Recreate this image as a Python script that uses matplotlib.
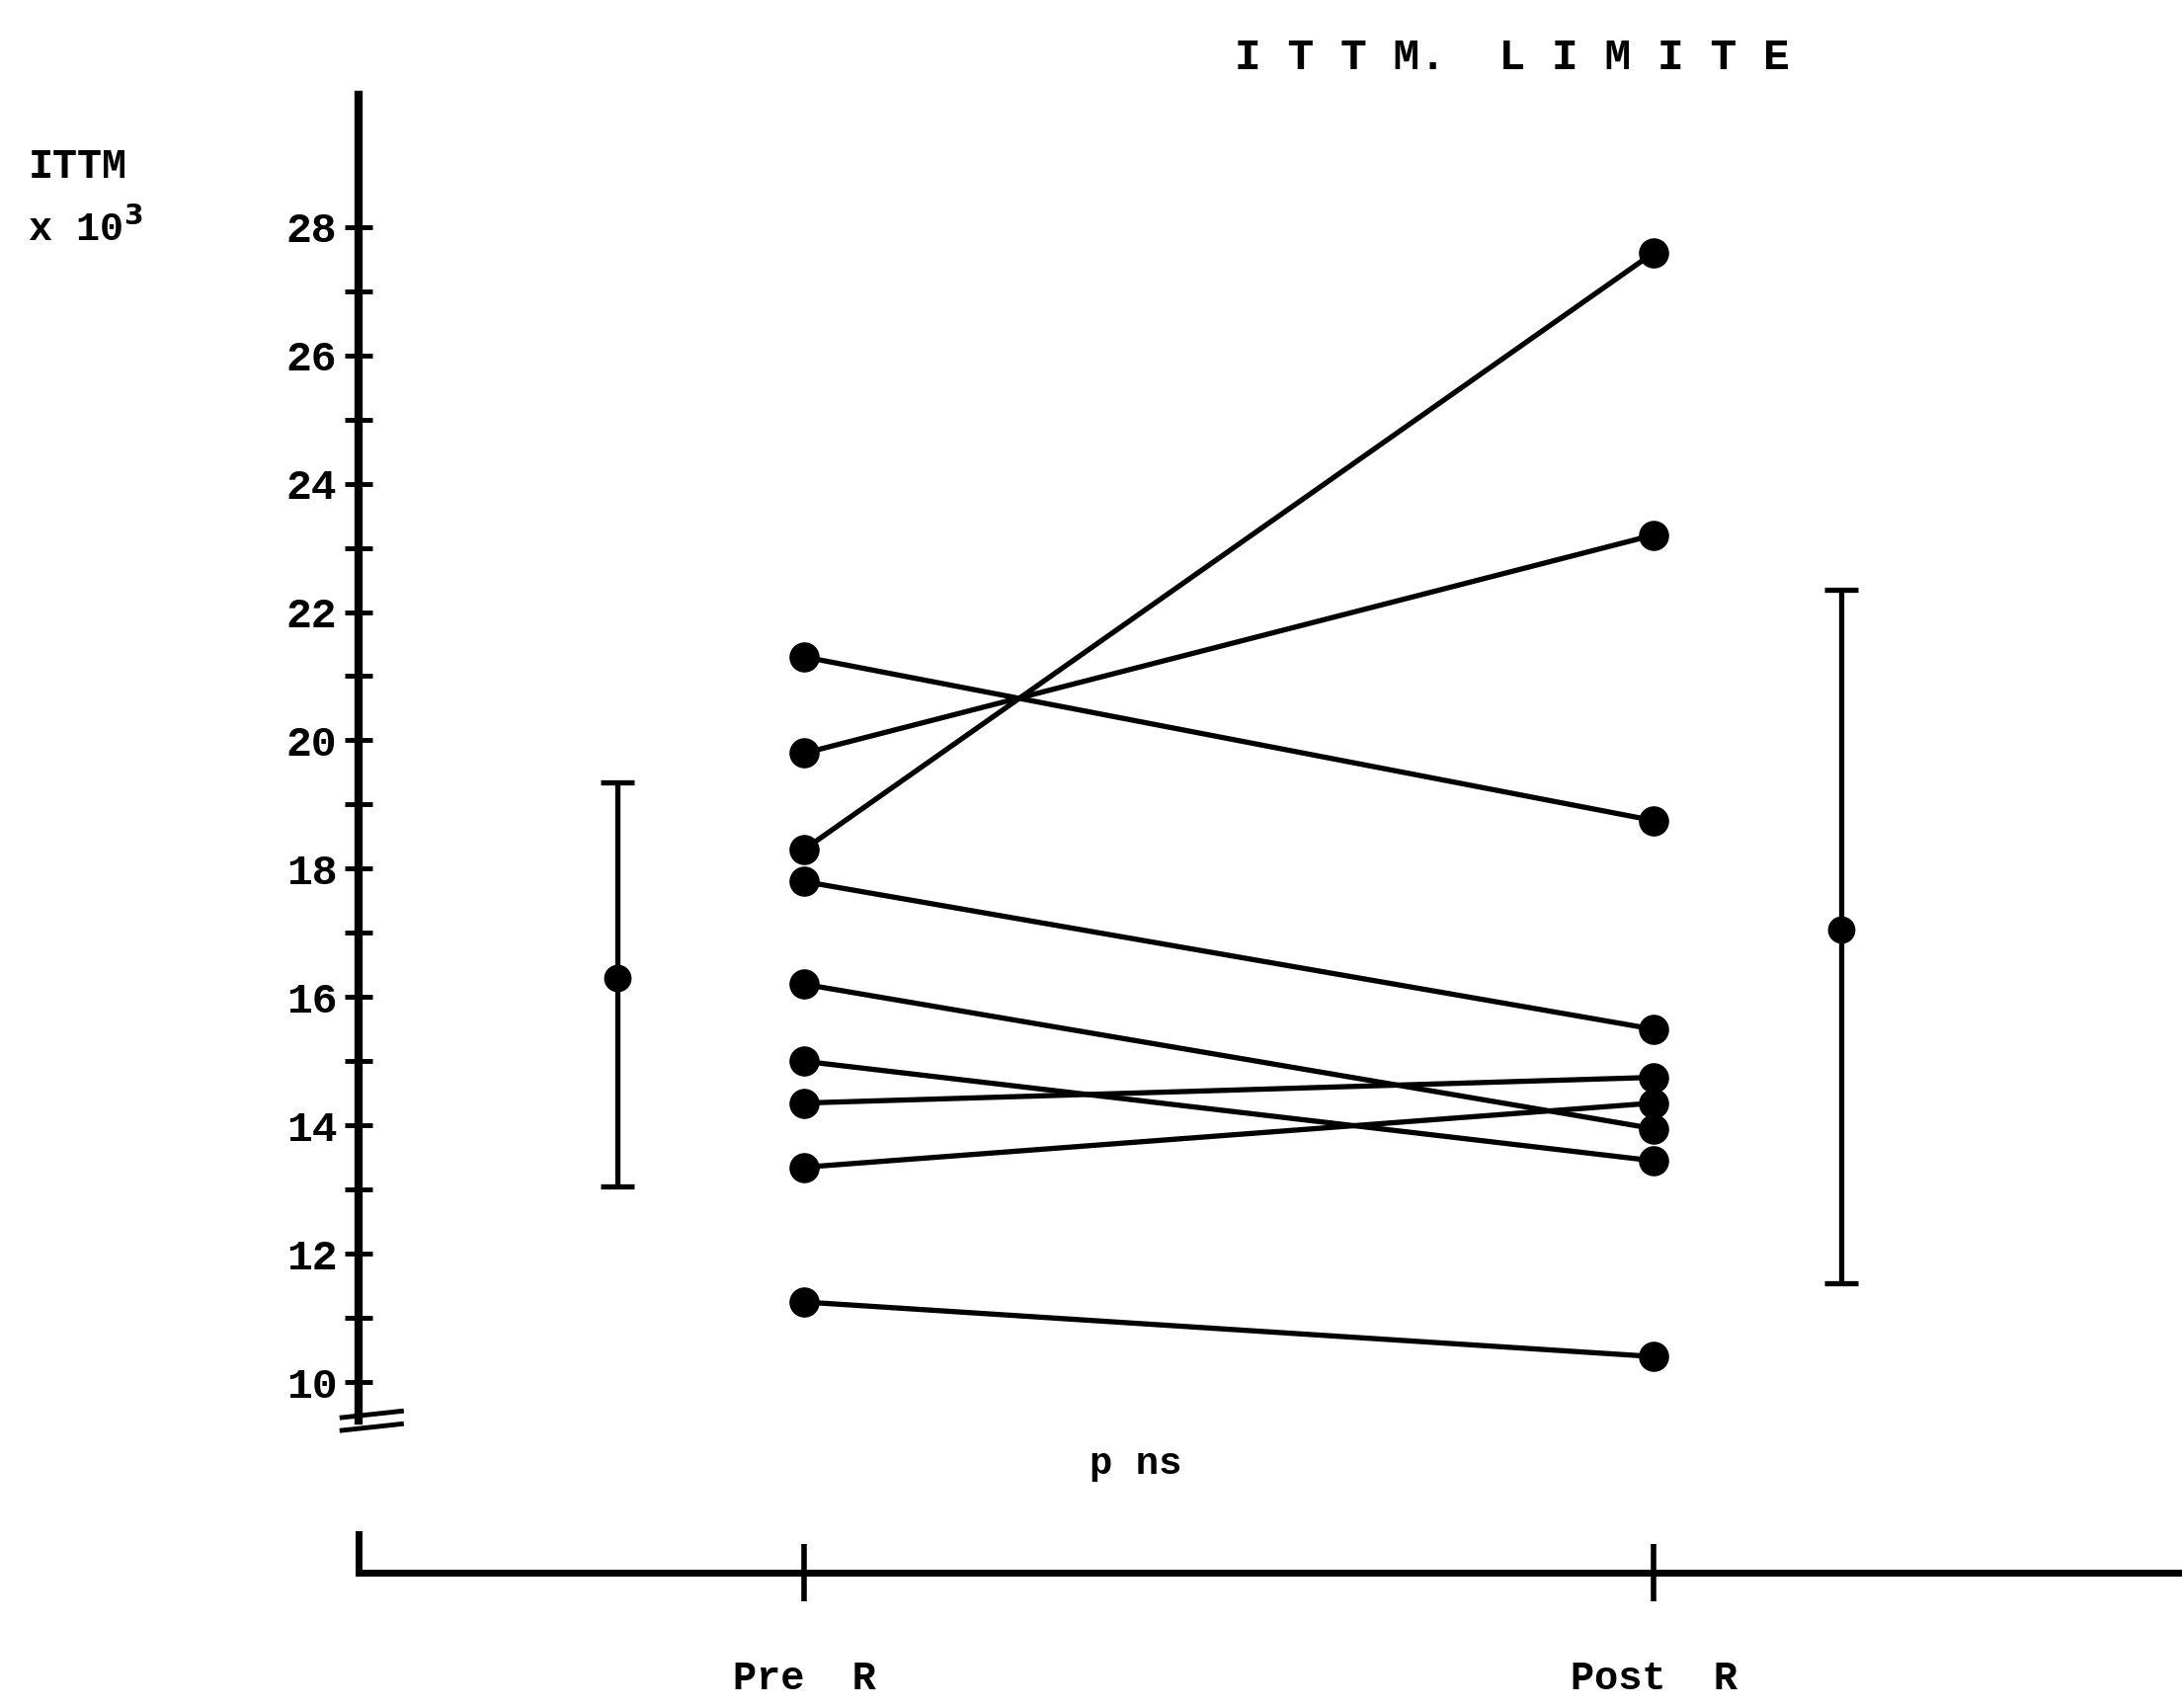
"""Paired pre/post ITTM values (x 10^3), with mean and SD bars on each side."""
import matplotlib
matplotlib.use("Agg")
import matplotlib.pyplot as plt
import numpy as np

plt.rcParams["font.family"] = ["Liberation Mono", "DejaVu Sans Mono"]
plt.rcParams["font.weight"] = "bold"

# values (ITTM x 10^3)
pre_values = [21.3, 19.8, 18.3, 17.8, 16.2, 15.0, 14.35, 13.35, 11.25]
post_values = [18.75, 23.2, 27.6, 15.5, 13.95, 13.45, 14.75, 14.35, 10.4]

group_labels = ["Pre  R", "Post  R"]
mean_values = [16.3, 17.05]
sd_low = [13.05, 11.55]
sd_high = [19.35, 22.35]

y_major = list(range(10, 29, 2))
y_minor = list(range(11, 28, 2))

X_PRE, X_POST = 0.0, 1.0
SD_X = [-0.22, 1.22]
XAXIS_Y = 7.03
LW = 3.8

fig = plt.figure(figsize=(22.09, 17.29), dpi=100)
ax = fig.add_axes([0.1645, 0.0, 0.8355, 0.9446])
ax.set_xlim(-0.524, 1.6216)
ax.set_ylim(4.925, 30.06)

# paired lines
for a, b in zip(pre_values, post_values):
    ax.plot([X_PRE, X_POST], [a, b], color="black", lw=LW,
            marker="o", ms=21, solid_capstyle="round", zorder=3)

# mean +/- SD
means = np.array(mean_values)
yerr = np.vstack([means - np.array(sd_low), np.array(sd_high) - means])
ax.errorbar(SD_X, means, yerr=yerr, fmt="o", color="black", ms=19,
            elinewidth=LW, capsize=12, capthick=LW, zorder=3)

# y axis
for side in ("top", "right"):
    ax.spines[side].set_visible(False)
ax.spines["left"].set_linewidth(6)
ax.spines["left"].set_bounds(9.4, 30.06)
ax.set_yticks(y_major)
ax.set_yticks(y_minor, minor=True)
ax.set_yticklabels([str(v) for v in y_major], fontsize=31, fontweight="bold")
ax.tick_params(axis="y", which="both", direction="inout", length=20,
               width=3.5, pad=6)

# broken-axis marks at the foot of the y axis
x0 = ax.get_xlim()[0]
for yb in (9.5, 9.3):
    ax.plot([x0 - 0.02, x0 + 0.05], [yb - 0.05, yb + 0.05], color="black",
            lw=3.5, clip_on=False)

# detached x axis
ax.spines["bottom"].set_position(("data", XAXIS_Y))
ax.spines["bottom"].set_linewidth(5)
ax.set_xticks([X_PRE, X_POST])
ax.set_xticklabels(group_labels, fontsize=29, fontweight="bold")
ax.tick_params(axis="x", direction="inout", length=42, width=4, pad=42)
ax.plot([x0, x0], [XAXIS_Y, XAXIS_Y + 0.6], color="black", lw=5,
        clip_on=False)

ax.text(0.39, 8.72, "p ns", fontsize=28, fontweight="bold", ha="center",
        va="center")

fig.text(0.0128, 0.902, "ITTM", fontsize=30, fontweight="bold", va="center")
fig.text(0.0128, 0.866, "x 10$^3$", fontsize=29, fontweight="bold",
         va="center")
fig.text(0.693, 0.966, "I T T M.  L I M I T E", fontsize=32,
         fontweight="bold", ha="center", va="center")

fig.savefig("out.png", dpi=100)
